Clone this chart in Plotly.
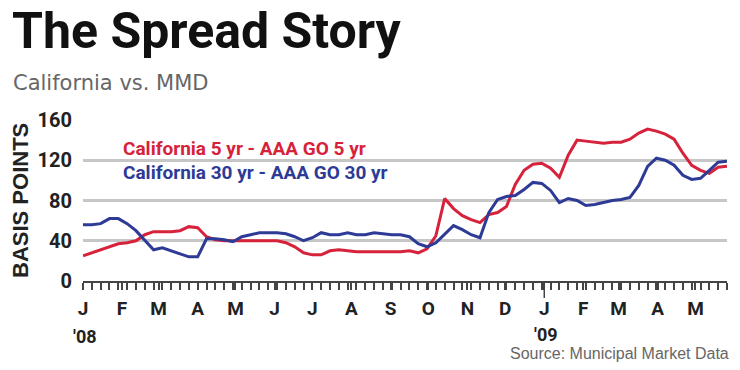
import pandas as pd
import plotly.graph_objects as go

dates = pd.date_range("2008-01-01", periods=74, freq="7D")

ca5_minus_aaa5 = [25, 28, 31, 34, 37, 38, 40, 46, 49, 49, 49, 50, 54, 53, 44, 41, 40, 40, 40, 40,
                  40, 40, 40, 38, 34, 28, 26, 26, 30, 31, 30, 29, 29, 29, 29, 29, 29, 30, 28, 32,
                  45, 82, 72, 65, 61, 58, 66, 68, 74, 96, 110, 116, 117, 112, 103, 125, 140, 139, 138, 137,
                  138, 138, 141, 147, 151, 149, 146, 141, 127, 115, 110, 107, 113, 114]

ca30_minus_aaa30 = [56, 56, 57, 62, 62, 57, 50, 40, 31, 33, 30, 27, 24, 24, 42, 42, 41, 39, 44, 46,
                    48, 48, 48, 47, 44, 40, 43, 48, 46, 46, 48, 46, 46, 48, 47, 46, 46, 44, 37, 34,
                    38, 46, 55, 51, 46, 43, 68, 81, 84, 85, 91, 98, 97, 90, 78, 82, 80, 75, 76, 78,
                    80, 81, 83, 95, 114, 122, 120, 115, 105, 101, 102, 110, 118, 119]

month_starts = pd.date_range("2008-01-01", "2009-05-01", freq="MS")
month_labels = ["J", "F", "M", "A", "M", "J", "J", "A", "S", "O", "N", "D",
                "J", "F", "M", "A", "M"]
y_ticks = [0, 40, 80, 120, 160]
year_labels = ["'08", "'09"]
year_dates = ["2008-01-01", "2009-01-01"]

series_names = ["California 5 yr - AAA GO 5 yr", "California 30 yr - AAA GO 30 yr"]
RED = "#d6223a"
BLUE = "#2d3a96"
BOLDF = "Roboto, Liberation Sans, sans-serif"

fig = go.Figure()
fig.add_trace(go.Scatter(x=dates, y=ca5_minus_aaa5, mode="lines", name=series_names[0],
                         line=dict(color=RED, width=3)))
fig.add_trace(go.Scatter(x=dates, y=ca30_minus_aaa30, mode="lines", name=series_names[1],
                         line=dict(color=BLUE, width=3)))

W0, W1 = 83, 727
T, B = 120, 281
def px(x):
    return (x - W0) / (W1 - W0)
def py(y):
    return (B - y) / (B - T)

fig.update_layout(
    width=740, height=370,
    margin=dict(l=W0, r=740 - W1, t=T, b=370 - B),
    paper_bgcolor="white", plot_bgcolor="white",
    showlegend=False,
    xaxis=dict(
        range=["2008-01-01", "2009-05-26"],
        tickvals=list(month_starts), ticktext=month_labels,
        ticks="outside", ticklen=7, tickwidth=1.5, tickcolor="#444",
        minor=dict(dtick=7 * 86400000, tick0="2008-01-01", ticks="outside",
                   ticklen=7, tickwidth=1.5, tickcolor="#444", showgrid=False),
        showline=True, linecolor="#444", linewidth=2,
        showgrid=False, zeroline=False,
        tickfont=dict(family=BOLDF, size=19, color="#222", weight="bold"),
        ticklabelstandoff=2,
    ),
    yaxis=dict(
        range=[0, 160], tickvals=y_ticks,
        showgrid=True, gridcolor="#c6c6c6", gridwidth=3,
        zeroline=False, showline=False, ticks="",
        tickfont=dict(family=BOLDF, size=20, color="#222", weight="bold"),
        ticklabelstandoff=10,
    ),
)

# white mask behind legend text (interrupts the 120 gridline)
fig.add_shape(type="rect", xref="paper", yref="paper",
              x0=px(117), x1=px(390), y0=py(185), y1=py(137),
              fillcolor="white", line=dict(width=0), layer="between")

# long tick at the year boundary
fig.add_shape(type="line", xref="x", yref="paper",
              x0=year_dates[1], x1=year_dates[1], y0=0, y1=py(298),
              line=dict(color="#444", width=1.5))

ann = []
ann.append(dict(text="<b>The Spread Story</b>", xref="paper", yref="paper",
                x=px(10), y=py(31), xanchor="left", yanchor="middle", showarrow=False,
                font=dict(family="Roboto, Liberation Sans, sans-serif", size=50, color="#111")))
ann.append(dict(text="California vs. MMD", xref="paper", yref="paper",
                x=px(11), y=py(83), xanchor="left", yanchor="middle", showarrow=False,
                font=dict(family="DejaVu Sans, sans-serif", size=21, color="#666")))
ann.append(dict(text="<b>BASIS POINTS</b>", xref="paper", yref="paper",
                x=px(20), y=py(201), xanchor="center", yanchor="middle", textangle=-90,
                showarrow=False,
                font=dict(family="Liberation Sans, Arial, sans-serif", size=22, color="#222")))
ann.append(dict(text="<b>" + series_names[0] + "</b>", xref="paper", yref="paper",
                x=px(121), y=py(148), xanchor="left", yanchor="middle", showarrow=False,
                font=dict(family=BOLDF, size=19, color=RED)))
ann.append(dict(text="<b>" + series_names[1] + "</b>", xref="paper", yref="paper",
                x=px(121), y=py(172), xanchor="left", yanchor="middle", showarrow=False,
                font=dict(family=BOLDF, size=19, color=BLUE)))
for lbl, d, yy in zip(year_labels, year_dates, [336, 334]):
    ann.append(dict(text="<b>" + lbl + "</b>", xref="x", yref="paper",
                    x=d, y=py(yy), xanchor="center", yanchor="middle", xshift=2,
                    showarrow=False, font=dict(family=BOLDF, size=18, color="#222")))
ann.append(dict(text="Source: Municipal Market Data", xref="paper", yref="paper",
                x=px(731), y=py(353), xanchor="right", yanchor="middle", showarrow=False,
                font=dict(family="Liberation Sans, Arial, sans-serif", size=16, color="#666")))
fig.update_layout(annotations=ann)

fig.write_html("out.html")
